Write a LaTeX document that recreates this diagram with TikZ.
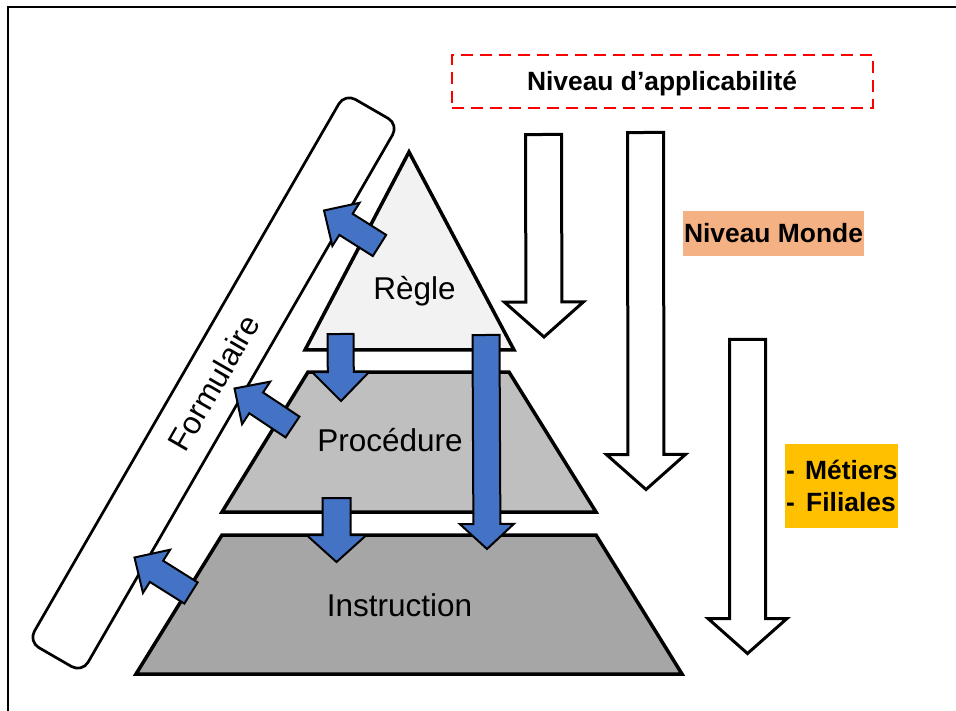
\documentclass[tikz,border=0pt]{standalone}
\usepackage{fontspec}
\setmainfont{Liberation Sans}
\usetikzlibrary{calc}
\definecolor{blueA}{HTML}{4472C4}
\definecolor{grayR}{HTML}{F2F2F2}
\definecolor{grayP}{HTML}{BFBFBF}
\definecolor{grayI}{HTML}{A6A6A6}
\definecolor{orangeM}{HTML}{F4B183}
\definecolor{yellowF}{HTML}{FFC000}
\definecolor{redD}{HTML}{FF0000}
% #1 style, #2 tail, #3 tip, #4 half shaft, #5 half head, #6 head length
\newcommand{\blockarrow}[6]{%
  \coordinate (ba-t) at (#2);
  \coordinate (ba-p) at (#3);
  \coordinate (ba-h) at ($(ba-p)!#6!(ba-t)$);
  \draw[#1] ($(ba-t)!#4!90:(ba-p)$) -- ($(ba-h)!#4!90:(ba-p)$) -- ($(ba-h)!#5!90:(ba-p)$)
    -- (ba-p) -- ($(ba-h)!#5!-90:(ba-p)$) -- ($(ba-h)!#4!-90:(ba-p)$) -- ($(ba-t)!#4!-90:(ba-p)$) -- cycle;}
\tikzset{
  layer/.style={draw=black, line width=3.5pt, line join=miter},
  bluearrow/.style={draw=black, fill=blueA, line width=2pt, line join=miter},
  whitearrow/.style={draw=black, fill=white, line width=3pt, line join=miter},
  lbl/.style={font=\fontsize{31.5}{36}\selectfont, inner sep=0pt, anchor=base},
  boldlbl/.style={font=\bfseries\fontsize{26.4}{31}\selectfont, inner sep=0pt, anchor=base},
}
\begin{document}
\begin{tikzpicture}[x=1pt, y=-1pt]
\useasboundingbox (0,0) rectangle (956,711);
% frame
\draw[line width=2.5pt] (8,730) -- (8,7) -- (970,7);

% Formulaire bar
\node (form) [draw=black, line width=2.7pt, rounded corners=12pt, minimum width=633pt,
  minimum height=62pt, inner sep=0pt, rotate=60, font=\fontsize{31.5}{36}\selectfont]
  at (213.5,383) {Formulaire};

% pyramid layers
\draw[layer, fill=grayR] (409,152) -- (514,350) -- (305,350) -- cycle;
\draw[layer, fill=grayP] (308,372) -- (509,372) -- (596,512) -- (222,512) -- cycle;
\draw[layer, fill=grayI] (222,535) -- (596,535) -- (682,674) -- (136,674) -- cycle;
\node (regle) [lbl] at (414.5,300) {Règle};
\node (proc) [lbl] at (390,451) {Procédure};
\node (instr) [lbl] at (399.5,616) {Instruction};

% blue arrows down
\coordinate (v1s) at (340.5,334);
\coordinate (v1e) at (341,401);
\blockarrow{bluearrow}{v1s}{v1e}{13pt}{28.5pt}{29pt}
\coordinate (v2s) at (336.5,498);
\coordinate (v2e) at (336.5,562);
\blockarrow{bluearrow}{v2s}{v2e}{14pt}{30pt}{27pt}
\coordinate (v3s) at (486,335);
\coordinate (v3e) at (487,549);
\blockarrow{bluearrow}{v3s}{v3e}{13.5pt}{27pt}{25pt}

% blue arrows toward the form
\coordinate (a1s) at (379.5,245.5);
\coordinate (a1e) at (324,210.5);
\blockarrow{bluearrow}{a1s}{a1e}{12.5pt}{25.5pt}{26pt}
\coordinate (a2s) at (292.5,427);
\coordinate (a2e) at (234.5,388.5);
\blockarrow{bluearrow}{a2s}{a2e}{12.5pt}{25.5pt}{26pt}
\coordinate (a3s) at (191,593);
\coordinate (a3e) at (134.5,557.5);
\blockarrow{bluearrow}{a3s}{a3e}{12.5pt}{25.5pt}{26pt}

% white arrows
\coordinate (wAs) at (543.5,134.5);
\coordinate (wAe) at (544,337);
\blockarrow{whitearrow}{wAs}{wAe}{18pt}{39.5pt}{35pt}
\coordinate (wBs) at (645.5,132.5);
\coordinate (wBe) at (646,489.5);
\blockarrow{whitearrow}{wBs}{wBe}{18pt}{39.5pt}{35pt}
\coordinate (wCs) at (747.5,339.5);
\coordinate (wCe) at (747.5,653.5);
\blockarrow{whitearrow}{wCs}{wCe}{18pt}{39.5pt}{35pt}

% labels on the right
\node (lvlbox) [draw=redD, line width=1.7pt, dash pattern=on 12pt off 7pt, minimum width=421pt,
  minimum height=53pt, inner sep=0pt] at (662.5,81.5) {};
\node (lvl) [boldlbl] at (662,91) {Niveau d’applicabilité};

\node (mondebox) [fill=orangeM, minimum width=181pt, minimum height=45pt, inner sep=0pt] at (773.5,233.5) {};
\node (monde) [boldlbl] at (773.5,243) {Niveau Monde};

\node (metbox) [fill=yellowF, minimum width=113pt, minimum height=84pt, inner sep=0pt] at (841.5,486) {};
\node (d1) [boldlbl, anchor=base west] at (786,479) {-};
\node (met) [boldlbl, anchor=base west] at (805,479) {Métiers};
\node (d2) [boldlbl, anchor=base west] at (786,511) {-};
\node (fil) [boldlbl, anchor=base west] at (806,511) {Filiales};
\end{tikzpicture}
\end{document}
